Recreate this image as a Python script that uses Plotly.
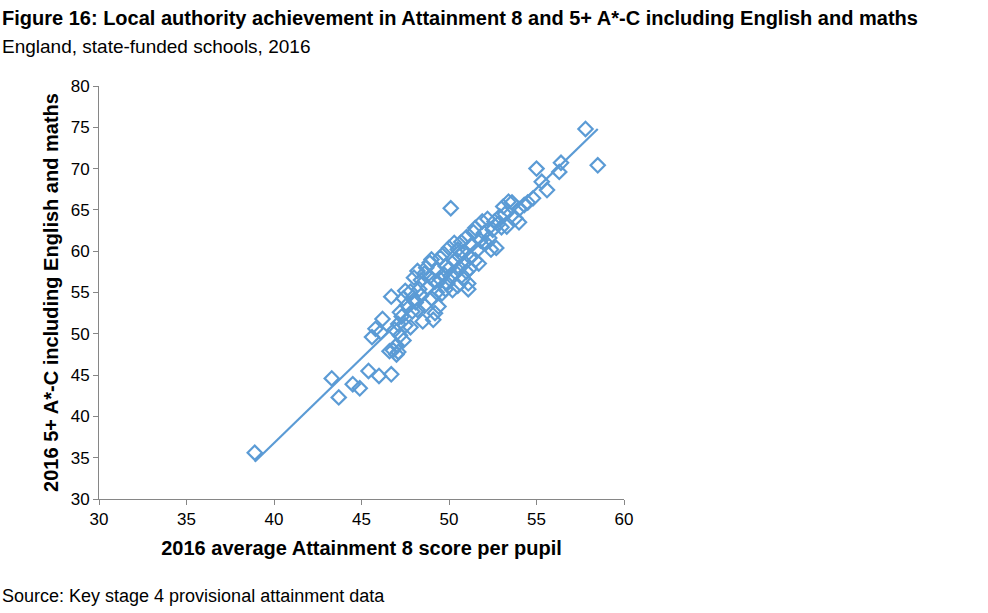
import numpy as np
import plotly.graph_objects as go

attainment8 = [38.9, 43.3, 43.7, 44.5, 44.9, 45.4, 46.0, 46.7,
    45.6, 45.8, 46.1, 46.2, 46.6, 46.8, 47.0, 47.0, 47.1, 47.2, 47.4, 47.5, 46.9, 47.1, 47.3,
    46.7, 47.4, 47.5, 47.8, 48.0, 47.9, 48.2, 48.3, 48.5, 48.6, 48.4, 48.6, 48.7, 48.9, 48.8,
    49.1, 49.2, 49.0, 49.3, 49.4, 49.5, 49.3, 49.7, 49.6, 49.8, 49.7, 50.0, 50.1, 49.9, 50.2,
    50.3, 50.4, 50.5, 50.6, 50.7, 50.8, 51.0, 51.1, 51.1, 50.9, 51.2, 51.0, 51.3, 51.4, 51.5,
    51.6, 51.8, 51.9, 52.0, 52.2, 52.3, 52.4, 52.5, 52.7, 52.8, 52.9, 53.0, 53.2, 53.4, 53.1,
    53.6, 53.8, 54.0, 54.0, 54.3, 54.5, 54.8, 55.0, 55.3, 55.6, 56.4, 56.3, 57.8, 58.5,
    48.0, 48.2, 47.6, 48.9, 49.5, 50.0, 50.3, 49.8, 50.5, 51.7, 52.1, 49.2, 48.4, 47.8, 47.2,
    50.8, 51.5, 52.6, 53.3, 48.1, 49.0, 50.1, 51.2, 50.6]
pct_5ac = [35.6, 44.6, 42.3, 43.9, 43.4, 45.5, 44.9, 45.1,
    49.6, 50.6, 50.2, 51.8, 47.9, 48.0, 48.6, 47.5, 47.8, 49.8, 49.2, 51.0, 50.5, 51.2, 52.1,
    54.5, 54.3, 55.2, 55.1, 54.1, 52.7, 52.9, 55.4, 51.5, 53.4, 56.5, 57.3, 58.0, 58.6, 55.6,
    51.7, 52.5, 54.3, 55.0, 53.3, 56.6, 57.7, 57.2, 54.9, 58.2, 59.7, 57.9, 65.2, 56.1, 55.3,
    58.8, 57.4, 60.2, 59.4, 61.1, 56.7, 57.5, 55.4, 56.1, 58.6, 59.3, 61.7, 60.8, 62.3, 58.9,
    60.1, 61.3, 63.6, 62.2, 63.9, 61.6, 60.2, 62.6, 60.4, 63.3, 64.2, 62.9, 64.5, 66.0, 65.4,
    65.9, 64.0, 63.5, 65.1, 65.6, 65.9, 66.4, 70.0, 68.4, 67.4, 70.7, 69.6, 74.8, 70.4,
    56.8, 57.6, 53.5, 56.9, 59.2, 60.4, 61.0, 55.4, 55.8, 58.5, 61.0, 56.3, 54.6, 50.8, 52.6,
    59.9, 62.8, 63.6, 63.0, 53.8, 59.0, 57.0, 57.9, 58.0]

x_ticks = [30, 35, 40, 45, 50, 55, 60]
y_ticks = [30, 35, 40, 45, 50, 55, 60, 65, 70, 75, 80]

BLUE = "#5B9BD5"
FONT = "Liberation Sans, Arial, sans-serif"

slope, intercept = np.polyfit(attainment8, pct_5ac, 1)
tx = np.array([min(attainment8), max(attainment8)])
ty = slope * tx + intercept

fig = go.Figure()
fig.add_trace(go.Scatter(x=attainment8, y=pct_5ac, mode="markers",
    marker=dict(symbol="diamond-open", size=11, color=BLUE, line=dict(width=2.2, color=BLUE)),
    showlegend=False))
fig.add_trace(go.Scatter(x=tx, y=ty, mode="lines", line=dict(color=BLUE, width=2.2), showlegend=False))

fig.update_layout(
    width=988, height=613, plot_bgcolor="white", paper_bgcolor="white",
    margin=dict(l=99, r=364, t=86, b=114),
    font=dict(family=FONT, color="#000000"),
    xaxis=dict(range=[30, 60], tickvals=x_ticks, showgrid=False, zeroline=False,
               showline=True, linecolor="#868686", linewidth=1, ticks="outside",
               tickcolor="#868686", ticklen=5, tickfont=dict(size=17),
               title=dict(text="<b>2016 average Attainment 8 score per pupil</b>", font=dict(size=20), standoff=12)),
    yaxis=dict(range=[30, 80], tickvals=y_ticks, showgrid=False, zeroline=False,
               showline=True, linecolor="#868686", linewidth=1, ticks="outside",
               tickcolor="#868686", ticklen=5, tickfont=dict(size=17),
               title=dict(text="<b>2016 5+ A*-C including English and maths</b>", font=dict(size=20), standoff=6)),
    annotations=[
        dict(text="<b>Figure 16: Local authority achievement in Attainment 8 and 5+ A*-C including English and maths</b>",
             xref="paper", yref="paper", x=-99/525, y=1 + (86 - 18) / 413, xanchor="left", yanchor="middle",
             showarrow=False, font=dict(size=20)),
        dict(text="England, state-funded schools, 2016",
             xref="paper", yref="paper", x=-99/525, y=1 + (86 - 46) / 413, xanchor="left", yanchor="middle",
             showarrow=False, font=dict(size=19)),
        dict(text="Source: Key stage 4 provisional attainment data",
             xref="paper", yref="paper", x=-99/525, y=-(596 - 499) / 413, xanchor="left", yanchor="middle",
             showarrow=False, font=dict(size=18)),
    ],
)

fig.write_html("out.html")
